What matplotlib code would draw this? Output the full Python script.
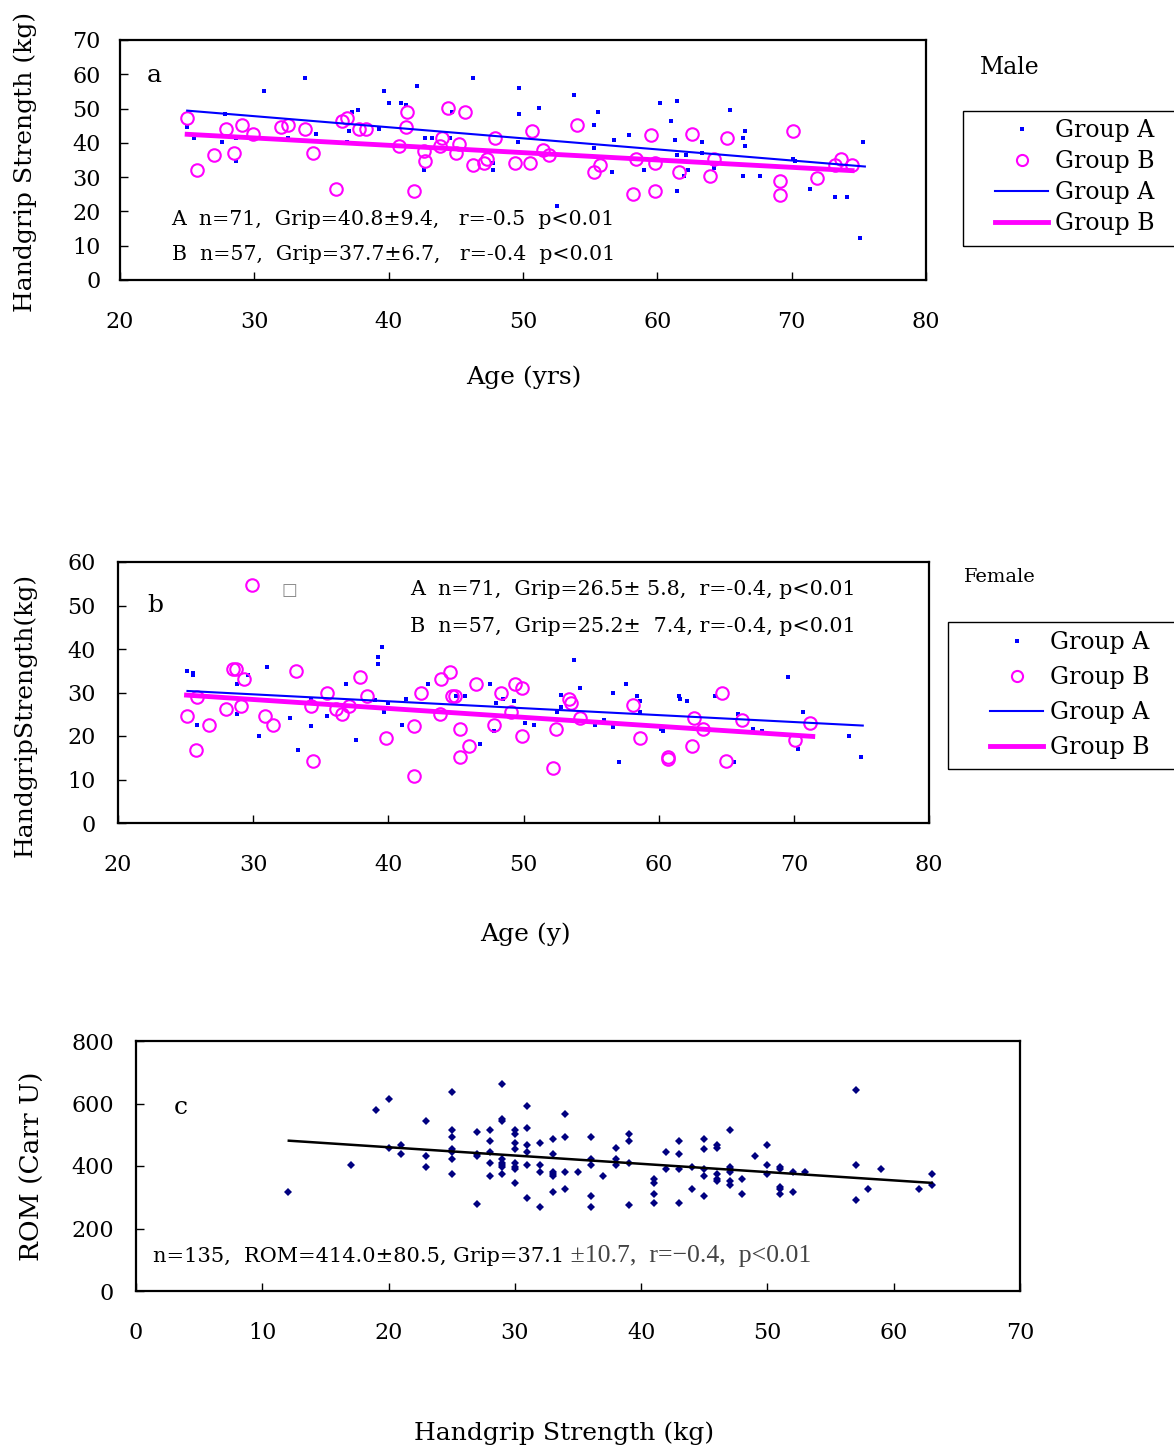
import numpy as np
import matplotlib
matplotlib.use("Agg")
import matplotlib.pyplot as plt
from matplotlib.lines import Line2D
from matplotlib.patches import Rectangle

plt.rcParams["font.family"] = ["DejaVu Serif", "DejaVu Sans"]

# ---- panel a (male): age vs grip ----
a_age_A = [25.0, 25.5, 30.7, 33.8, 27.8, 27.6, 28.6, 28.6, 32.5, 34.6, 36.9, 37.05,
           37.3, 37.7, 39.3, 39.65, 40.0, 40.9, 41.3, 42.1, 42.7, 42.6, 43.2, 44.7,
           44.6, 46.3, 47.8, 47.8, 49.6, 49.7, 49.7, 51.2, 52.5, 53.8, 55.3, 55.6,
           55.3, 56.6, 56.75, 57.9, 59.0, 60.2, 61.0, 61.3, 61.5, 61.5, 62.1, 62.3,
           62.0, 61.5, 63.3, 63.3, 64.2, 65.4, 66.4, 66.5, 66.5, 66.4, 67.65, 70.1,
           70.25, 71.4, 73.2, 74.15, 75.1, 75.3]
a_grip_A = [44.6, 41.5, 55.2, 59.0, 48.5, 40.2, 41.5, 34.6, 41.5, 42.7, 40.2, 43.4,
            49.0, 49.6, 44.0, 55.2, 51.5, 51.5, 50.9, 56.5, 41.5, 32.2, 41.5, 49.0,
            41.5, 59.0, 34.0, 32.2, 40.2, 55.9, 48.5, 50.3, 21.6, 54.0, 45.3, 49.0,
            38.4, 31.5, 40.9, 42.2, 32.2, 51.5, 46.5, 40.9, 52.1, 36.6, 36.6, 32.2,
            30.3, 25.9, 40.2, 37.1, 32.8, 49.6, 41.5, 43.4, 39.1, 30.3, 30.3, 35.3,
            34.6, 26.5, 24.1, 24.1, 12.2, 40.2]
a_age_B = [25.0, 25.7, 27.0, 27.9, 28.45, 29.1, 29.9, 32.0, 32.5, 33.8, 34.4, 36.1,
           36.55, 36.9, 37.8, 38.3, 40.8, 41.4, 41.3, 41.9, 42.6, 42.7, 43.8, 44.0,
           44.4, 45.0, 45.2, 45.7, 46.3, 47.1, 47.3, 47.95, 49.4, 50.55, 50.7, 51.5,
           51.9, 54.0, 55.3, 55.75, 58.2, 58.4, 59.5, 59.8, 59.8, 61.6, 62.6, 63.9,
           64.2, 65.2, 69.1, 69.1, 70.1, 71.9, 73.2, 73.65, 74.5]
a_grip_B = [47.2, 32.1, 36.6, 44.0, 37.1, 45.3, 42.7, 44.6, 45.3, 44.0, 37.1, 26.5,
            46.5, 47.2, 44.0, 44.0, 39.0, 49.0, 44.6, 25.9, 37.7, 34.6, 39.0, 41.5,
            50.3, 37.1, 39.7, 49.0, 33.4, 34.0, 35.3, 41.5, 34.0, 34.0, 43.4, 38.0,
            36.5, 45.3, 31.5, 33.4, 25.2, 35.3, 42.2, 34.0, 25.9, 31.5, 42.7, 30.3,
            35.3, 41.5, 29.0, 24.7, 43.4, 29.7, 33.4, 35.3, 33.4]
a_fitA_x, a_fitA_y = [25.0, 75.45], [49.4, 33.1]
a_fitB_x, a_fitB_y = [25.0, 74.5], [42.5, 31.9]

# ---- panel b (female): age vs grip ----
b_age_A = [25.07, 25.56, 25.56, 25.86, 28.8, 28.8, 29.6, 31.06, 30.4, 32.7, 33.35, 34.3,
           34.3, 35.45, 36.9, 37.6, 39.2, 39.2, 39.5, 39.05, 39.7, 40.0, 41.0, 41.3,
           42.95, 45.0, 45.7, 46.8, 47.5, 47.8, 48.0, 48.5, 49.3, 50.1, 50.74, 52.8,
           52.8, 52.5, 53.7, 54.2, 55.3, 55.97, 56.6, 56.6, 57.1, 57.6, 58.4, 58.6,
           58.6, 60.2, 60.3, 61.5, 61.6, 62.1, 64.2, 65.6, 65.85, 67.0, 67.65, 69.6,
           70.3, 70.7, 74.1, 74.95]
b_grip_A = [35.0, 34.4, 34.0, 22.6, 32.0, 25.1, 34.0, 35.9, 20.1, 24.1, 16.7, 22.2,
            28.3, 24.6, 32.0, 19.1, 38.1, 36.5, 40.4, 28.3, 25.6, 27.5, 22.6, 28.6,
            32.0, 29.1, 29.1, 18.2, 32.0, 21.2, 27.5, 28.6, 28.1, 23.1, 22.6, 29.5,
            26.6, 25.5, 37.5, 31.0, 22.6, 23.6, 22.1, 30.0, 14.1, 32.0, 29.1, 28.1,
            25.5, 21.6, 21.2, 29.1, 28.6, 28.1, 29.1, 14.1, 25.1, 21.6, 21.2, 33.5,
            17.1, 25.5, 20.1, 15.1]
b_age_B = [25.07, 25.76, 25.86, 26.7, 27.98, 28.5, 28.7, 29.1, 29.3, 29.95, 30.9, 31.5,
           33.2, 34.3, 34.4, 35.45, 36.1, 36.6, 37.1, 37.9, 38.4, 39.8, 41.9, 41.9,
           42.4, 43.8, 43.9, 44.55, 44.7, 44.9, 45.3, 45.3, 46.0, 46.5, 47.8, 48.3,
           49.1, 49.4, 49.9, 49.9, 52.4, 52.2, 53.35, 53.5, 54.2, 58.1, 58.6, 60.7,
           60.7, 62.45, 62.6, 63.3, 64.7, 65.0, 66.2, 70.1, 71.2]
b_grip_B = [24.6, 16.7, 28.9, 22.6, 26.1, 35.5, 35.5, 27.0, 33.0, 54.7, 24.6, 22.6,
            35.0, 27.0, 14.2, 30.0, 26.1, 25.1, 27.0, 33.5, 29.1, 19.6, 10.7, 22.2,
            30.0, 25.1, 33.0, 34.6, 29.1, 29.1, 21.6, 15.2, 17.6, 32.0, 22.6, 30.0,
            25.6, 32.0, 31.0, 20.1, 21.6, 12.6, 28.6, 27.5, 24.1, 27.1, 19.6, 15.1,
            14.8, 17.7, 24.1, 21.6, 30.0, 14.2, 23.6, 19.1, 23.1]
b_fitA_x, b_fitA_y = [25.14, 75.1], [30.35, 22.4]
b_fitB_x, b_fitB_y = [25.07, 71.4], [29.4, 19.9]

# ---- panel c: grip vs ROM ----
c_grip = [12, 17, 19, 20, 20, 21, 21, 23, 23, 23,
          25, 25, 25, 25, 25, 25, 25, 27, 27, 27, 27,
          28, 28, 28, 28, 28, 29, 29, 29, 29, 29, 29, 29, 29,
          30, 30, 30, 30, 30, 30, 30, 30, 31, 31, 31, 31, 31, 31,
          32, 32, 32, 32, 33, 33, 33, 33, 33, 33, 34, 34, 34, 34, 35,
          36, 36, 36, 36, 36, 37, 38, 38, 38, 39, 39, 39, 39,
          41, 41, 41, 41, 42, 42, 43, 43, 43, 43, 44, 44,
          45, 45, 45, 45, 45, 46, 46, 46, 46, 46, 47, 47, 47, 47, 47, 47,
          48, 48, 49, 50, 50, 50, 51, 51, 51, 51, 51, 52, 52, 53,
          57, 57, 57, 58, 59, 62, 63, 63]
c_rom = [317, 403, 579, 614, 459, 466, 438, 544, 431, 396,
         636, 515, 494, 453, 445, 424, 375, 509, 438, 431, 277,
         515, 480, 445, 410, 367, 663, 552, 544, 424, 410, 403, 396, 375,
         515, 502, 474, 453, 410, 396, 389, 346, 593, 523, 466, 445, 403, 297,
         474, 403, 381, 269, 488, 438, 381, 375, 367, 317, 565, 494, 381, 325, 381,
         494, 424, 403, 304, 268, 367, 459, 424, 403, 502, 480, 410, 276,
         360, 346, 311, 282, 445, 389, 480, 438, 389, 282, 396, 325,
         488, 453, 389, 367, 304, 466, 459, 375, 360, 353, 515, 396, 389, 381, 353, 339,
         360, 311, 431, 466, 403, 375, 396, 389, 332, 325, 311, 381, 318, 381,
         642, 403, 290, 325, 389, 325, 375, 339]
c_fit_x, c_fit_y = [12.1, 63.0], [481, 346]

W, H = 1174, 1450
fig = plt.figure(figsize=(W / 100, H / 100), dpi=100)


def px_axes(l, t, r, b):
    return fig.add_axes([l / W, 1 - b / H, (r - l) / W, (b - t) / H])


def style(ax, ypad):
    for s in ax.spines.values():
        s.set_linewidth(1.6)
    ax.tick_params(direction="in", length=6, width=1, labelsize=16)
    ax.tick_params(axis="x", pad=22)
    ax.tick_params(axis="y", pad=ypad)


blue = "#0000ff"
mag = "#ff00ff"

# panel a
ax = px_axes(120, 40, 926, 280)
ax.plot(a_age_A, a_grip_A, "s", color=blue, ms=2.6, mew=0)
ax.plot(a_age_B, a_grip_B, "o", mfc="none", mec=mag, ms=9, mew=1.5)
ax.plot(a_fitA_x, a_fitA_y, "-", color=blue, lw=1.5)
ax.plot(a_fitB_x, a_fitB_y, "-", color=mag, lw=3.5)
ax.set_xlim(20, 80)
ax.set_ylim(0, 70)
ax.set_xticks(range(20, 81, 10))
ax.set_yticks(range(0, 71, 10))
style(ax, 14)
ax.text(0.033, 0.85, "a", transform=ax.transAxes, fontsize=18, va="center")
ax.text(0.064, 0.254, "A  n=71,  Grip=40.8±9.4,   r=-0.5  p<0.01",
        transform=ax.transAxes, fontsize=14.8, va="center")
ax.text(0.064, 0.108, "B  n=57,  Grip=37.7±6.7,   r=-0.4  p<0.01",
        transform=ax.transAxes, fontsize=14.8, va="center")
fig.text(524 / W, 1 - 377 / H, "Age (yrs)", ha="center", va="center", fontsize=18)
fig.text(25 / W, 1 - 162 / H, "Handgrip Strength (kg)", ha="center", va="center",
         rotation=90, fontsize=18)

# panel b
ax = px_axes(118, 562, 929, 823)
ax.plot(b_age_A, b_grip_A, "s", color=blue, ms=2.6, mew=0)
ax.plot(b_age_B, b_grip_B, "o", mfc="none", mec=mag, ms=9, mew=1.5)
ax.plot(b_fitA_x, b_fitA_y, "-", color=blue, lw=1.5)
ax.plot(b_fitB_x, b_fitB_y, "-", color=mag, lw=3.5)
ax.set_xlim(20, 80)
ax.set_ylim(0, 60)
ax.set_xticks(range(20, 81, 10))
ax.set_yticks(range(0, 61, 10))
style(ax, 16)
ax.text(0.036, 0.835, "b", transform=ax.transAxes, fontsize=18, va="center")
ax.text(0.202, 0.893, "□", transform=ax.transAxes, fontsize=12, va="center",
        color="#888888", family="DejaVu Sans")
ax.text(0.36, 0.893, "A  n=71,  Grip=26.5± 5.8,  r=-0.4, p<0.01",
        transform=ax.transAxes, fontsize=14.9, va="center")
ax.text(0.36, 0.751, "B  n=57,  Grip=25.2±  7.4, r=-0.4, p<0.01",
        transform=ax.transAxes, fontsize=14.9, va="center")
fig.text(525 / W, 1 - 934 / H, "Age (y)", ha="center", va="center", fontsize=18)
fig.text(25 / W, 1 - 715 / H, "HandgripStrength(kg)", ha="center", va="center",
         rotation=90, fontsize=18)

# panel c
ax = px_axes(136, 1041, 1020, 1291)
ax.plot(c_grip, c_rom, "D", color="#000080", ms=4.5, mew=0)
ax.plot(c_fit_x, c_fit_y, "-", color="black", lw=1.8)
ax.set_xlim(0, 70)
ax.set_ylim(0, 800)
ax.set_xticks(range(0, 71, 10))
ax.set_yticks(range(0, 801, 200))
style(ax, 16)
ax.text(0.043, 0.732, "c", transform=ax.transAxes, fontsize=18, va="center")
t1 = ax.text(0.019, 0.14, "n=135,  ROM=414.0±80.5, Grip=37.1",
             transform=ax.transAxes, fontsize=15, va="center")
# the tail of this note is set in a lighter face in the original
ax.annotate(" ±10.7,  r=−0.4,  p<0.01", xy=(1, 0.5), xycoords=t1, va="center",
            fontsize=18.5, color="#444444", family=["Liberation Serif", "DejaVu Serif"])
fig.text(564 / W, 1 - 1433 / H, "Handgrip Strength (kg)", ha="center", va="center",
         fontsize=18)
fig.text(32 / W, 1 - 1166 / H, "ROM (Carr U)", ha="center", va="center",
         rotation=90, fontsize=19)

# legends (frame drawn as a rectangle so it can run off the right edge)
handles = [Line2D([], [], ls="none", marker="s", color=blue, ms=2.6, mew=0),
           Line2D([], [], ls="none", marker="o", mfc="none", mec=mag, ms=8, mew=1.5),
           Line2D([], [], color=blue, lw=1.5),
           Line2D([], [], color=mag, lw=3.5)]
labels = ["Group A", "Group B", "Group A", "Group B"]

fig.text(980 / W, 1 - 67 / H, "Male", fontsize=17, va="center")
fig.legend(handles, labels, loc="upper left", bbox_to_anchor=(995 / W, 1 - 119 / H),
           fontsize=17, frameon=False, handlelength=2.25, handletextpad=0.3,
           labelspacing=0.34, borderpad=0, borderaxespad=0)
fig.add_artist(Rectangle((963 / W, 1 - 246 / H), 230 / W, 135 / H,
                         transform=fig.transFigure, fill=False, ec="black", lw=1))

fig.text(964 / W, 1 - 577 / H, "Female", fontsize=14, va="center")
fig.legend(handles, labels, loc="upper left", bbox_to_anchor=(990 / W, 1 - 631 / H),
           fontsize=17, frameon=False, handlelength=2.25, handletextpad=0.3,
           labelspacing=0.51, borderpad=0, borderaxespad=0)
fig.add_artist(Rectangle((948 / W, 1 - 769 / H), 240 / W, 147 / H,
                         transform=fig.transFigure, fill=False, ec="black", lw=1))

fig.savefig("out.png", dpi=100)
